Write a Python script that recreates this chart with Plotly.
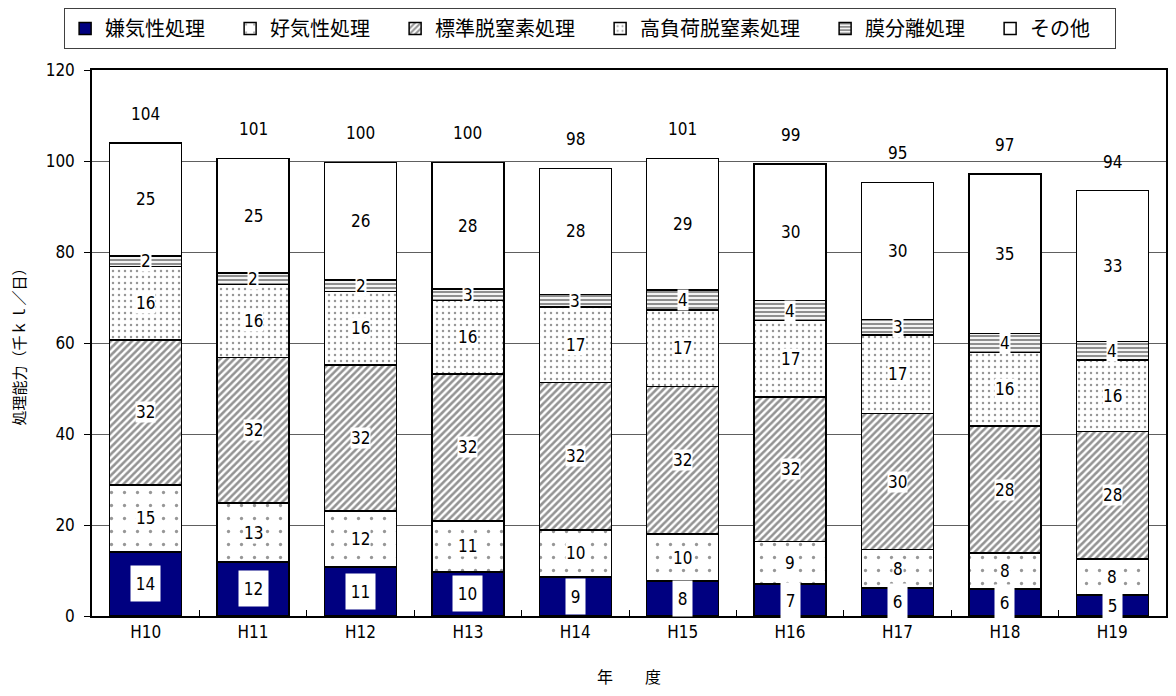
import plotly.graph_objects as go
import numpy as np

years = ["H10", "H11", "H12", "H13", "H14", "H15", "H16", "H17", "H18", "H19"]
anaerobic = [14.1, 11.9, 10.8, 9.7, 8.6, 7.7, 7.0, 6.2, 5.9, 4.6]
aerobic = [14.7, 12.9, 12.3, 11.2, 10.3, 10.3, 9.4, 8.4, 7.9, 7.9]
standard = [31.9, 32.0, 32.1, 32.3, 32.4, 32.4, 31.7, 29.9, 28.0, 28.0]
highload = [16.1, 16.1, 16.1, 16.1, 16.6, 16.9, 16.8, 17.3, 16.1, 15.8]
membrane = [2.3, 2.5, 2.5, 2.6, 2.8, 4.4, 4.4, 3.4, 4.2, 4.0]
other = [24.9, 25.2, 25.9, 27.8, 27.7, 28.9, 30.0, 30.1, 35.0, 33.2]

names = ["嫌気性処理", "好気性処理", "標準脱窒素処理", "高負荷脱窒素処理", "膜分離処理", "その他"]
series = [anaerobic, aerobic, standard, highload, membrane, other]

JP = "Noto Sans CJK JP"
NUM = "DejaVu Sans Condensed, Noto Sans CJK JP"

patterns = [
    dict(shape="", fgcolor="#000080", bgcolor="#000080"),
    dict(shape=".", fgcolor="#303030", bgcolor="white", size=13, solidity=0.05),
    dict(shape="/", fgcolor="#282828", bgcolor="white", size=5, solidity=0.52),
    dict(shape=".", fgcolor="#303030", bgcolor="white", size=6, solidity=0.14),
    dict(shape="-", fgcolor="#202020", bgcolor="white", size=4, solidity=0.55),
    dict(shape="", fgcolor="white", bgcolor="white"),
]
colors = ["#000080", "white", "white", "white", "white", "white"]

fig = go.Figure()
for nm, vals, pat, col in zip(names, series, patterns, colors):
    fig.add_trace(go.Bar(
        x=years, y=vals, name=nm + "\u3000",
        marker=dict(color=col, pattern=pat, line=dict(color="black", width=1.5)),
        hovertemplate=nm + ": %{y}<extra></extra>",
    ))

annotations = []
cum = np.zeros(len(years))
for i, vals in enumerate(series):
    v = np.array(vals)
    mids = cum + v / 2
    for j, yr in enumerate(years):
        txt = f"{v[j]:.0f}"
        if i == 0:
            annotations.append(dict(
                x=yr, y=mids[j], text=txt, showarrow=False,
                font=dict(family=NUM, size=17, color="black"),
                bgcolor="white", width=10 * len(txt) + 9, height=35, borderpad=0))
        else:
            annotations.append(dict(
                x=yr, y=mids[j], text=txt, showarrow=False,
                font=dict(family=NUM, size=17, color="black"),
                bgcolor="white", borderpad=0))
    cum = cum + v

totals = cum
for j, yr in enumerate(years):
    annotations.append(dict(
        x=yr, y=totals[j], text=f"{totals[j]:.0f}", showarrow=False,
        yanchor="middle", yshift=29,
        font=dict(family=NUM, size=17, color="black")))

fig.update_layout(
    barmode="stack",
    bargap=0.33,
    width=1176, height=696,
    margin=dict(l=84, r=18, t=62, b=88, autoexpand=False),
    paper_bgcolor="white", plot_bgcolor="white",
    font=dict(family=JP, size=15, color="black"),
    showlegend=True,
    legend=dict(
        orientation="h", xref="container", x=0.495, xanchor="center",
        yref="container", y=1.0, yanchor="top",
        traceorder="normal",
        bordercolor="#404040", borderwidth=1,
        font=dict(family=JP, size=20, color="black"),
        itemwidth=30,
    ),
    annotations=annotations,
    xaxis=dict(
        title=dict(text="年　　度", font=dict(family=JP, size=16), standoff=31),
        ticks="inside", tickson="boundaries", ticklen=6, tickcolor="black",
        showline=True, linecolor="black", linewidth=1.5, mirror=True,
        tickfont=dict(family=NUM, size=17),
    ),
    yaxis=dict(
        title=dict(text="処理能力（千ｋｌ／日）", font=dict(family=JP, size=15), standoff=20),
        range=[0, 120], dtick=20, ticks="outside", ticklen=6, tickcolor="black",
        ticklabelstandoff=6,
        showline=True, linecolor="black", linewidth=1.5, mirror=True,
        showgrid=True, gridcolor="#606060", gridwidth=1,
        tickfont=dict(family=NUM, size=17),
        zeroline=False,
    ),
)

fig.write_html("out.html")
